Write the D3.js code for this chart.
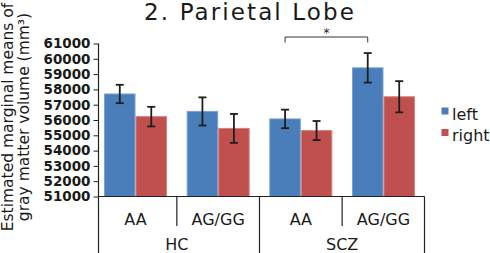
<!DOCTYPE html>
<html>
<head>
<meta charset="utf-8">
<script src="https://cdn.jsdelivr.net/npm/d3@7/dist/d3.min.js"></script>
<style>
  html, body { margin: 0; padding: 0; background: #fff; }
  svg { display: block; }
  text { font-family: "DejaVu Sans", Verdana, sans-serif; fill: #1a1a1a; }
</style>
</head>
<body>
<svg id="chart" width="490" height="253"></svg>
<script>
// ---- data ----
const groups = ["HC AA", "HC AG/GG", "SCZ AA", "SCZ AG/GG"];
const subLabels = ["AA", "AG/GG", "AA", "AG/GG"];
const diagnoses = ["HC", "SCZ"];
const sides = ["left", "right"];
const leftMeans = [57700, 56560, 56070, 59410];
const rightMeans = [56220, 55450, 55310, 57520];
const leftErr = [600, 920, 605, 965];
const rightErr = [640, 945, 625, 1020];
const yTicks = [51000, 52000, 53000, 54000, 55000, 56000, 57000, 58000, 59000, 60000, 61000];
const sigPair = [2, 3]; // SCZ AA left vs SCZ AG/GG left
const sigLabel = "*";
const title = "2. Parietal Lobe";
const yTitle = ["Estimated marginal means of", "gray matter volume (mm\u00B3)"];

const colors = { left: "#4a7ebb", right: "#c0504d" };
const strokes = { left: "#79a0d3", right: "#d8807d" };

const svg = d3.select("#chart");
const axisX = 98.5, plotRight = 424.5, baseY = 196.5, topY = 43.5;

const x0 = d3.scaleBand().domain(groups).range([94.2, 424.8]).paddingInner(0.238).paddingOuter(0.119);
const x1 = d3.scaleBand().domain(sides).range([0, x0.bandwidth()]);
const y = d3.scaleLinear().domain([51000, 61000]).range([baseY, topY]);

const data = [];
groups.forEach((g, i) => {
  data.push({ g, side: "left", v: leftMeans[i], e: leftErr[i] });
  data.push({ g, side: "right", v: rightMeans[i], e: rightErr[i] });
});

// bars
svg.append("g").selectAll("rect").data(data).join("rect")
  .attr("x", d => x0(d.g) + x1(d.side) + 0.5)
  .attr("width", x1.bandwidth() - 1)
  .attr("y", d => y(d.v))
  .attr("height", d => baseY - y(d.v))
  .attr("fill", d => colors[d.side])
  .attr("stroke", d => strokes[d.side])
  .attr("stroke-width", 1);

// error bars
const eg = svg.append("g").attr("stroke", "#1e1e1e").attr("stroke-width", 1.8).attr("fill", "none");
data.forEach(d => {
  const cx = x0(d.g) + x1(d.side) + x1.bandwidth() / 2;
  const t = y(d.v + d.e), b = y(d.v - d.e);
  eg.append("line").attr("x1", cx).attr("x2", cx).attr("y1", t).attr("y2", b);
  eg.append("line").attr("x1", cx - 4).attr("x2", cx + 4).attr("y1", t).attr("y2", t);
  eg.append("line").attr("x1", cx - 4).attr("x2", cx + 4).attr("y1", b).attr("y2", b);
});

// y axis
const yAxis = d3.axisLeft(y).tickValues(yTicks).tickSize(5).tickPadding(3).tickSizeOuter(0).tickFormat(d3.format("d"));
const ya = svg.append("g").attr("transform", `translate(${axisX},0)`).call(yAxis);
ya.select(".domain").remove();
ya.selectAll(".tick line").attr("stroke", "#222").attr("stroke-width", 1);
ya.selectAll(".tick text")
  .style("font-family", '"DejaVu Sans", sans-serif')
  .style("font-size", "13.5px")
  .style("font-weight", "bold")
  .attr("fill", "#1a1a1a");

// axis frame lines
const frame = svg.append("g").attr("stroke", "#222").attr("stroke-width", 1.2);
frame.append("line").attr("x1", axisX).attr("x2", axisX).attr("y1", topY).attr("y2", 253);
frame.append("line").attr("x1", axisX).attr("x2", plotRight).attr("y1", baseY).attr("y2", baseY);
frame.append("line").attr("x1", plotRight).attr("x2", plotRight).attr("y1", baseY).attr("y2", 253);
const step = x0.step();
for (let i = 1; i < groups.length; i++) {
  const bx = x0(groups[i]) - step * x0.paddingInner() / 2;
  const long = (i % 2 === 0);
  frame.append("line").attr("x1", bx).attr("x2", bx).attr("y1", baseY).attr("y2", long ? 253 : 226);
}

// category labels
svg.append("g").selectAll("text").data(groups).join("text")
  .attr("x", d => x0(d) + x0.bandwidth() / 2)
  .attr("y", 225)
  .attr("text-anchor", "middle")
  .style("font-size", "16px")
  .text((d, i) => subLabels[i]);

svg.append("g").selectAll("text").data(diagnoses).join("text")
  .attr("x", (d, i) => {
    const a = x0(groups[i * 2]), b = x0(groups[i * 2 + 1]) + x0.bandwidth();
    return (a + b) / 2;
  })
  .attr("y", 250)
  .attr("text-anchor", "middle")
  .style("font-size", "16px")
  .text(d => d);

// significance bracket
const sx1 = x0(groups[sigPair[0]]) + x1("left") + x1.bandwidth() / 2;
const sx2 = x0(groups[sigPair[1]]) + x1("left") + x1.bandwidth() / 2;
const by = y(61000) - 6.5;
svg.append("path")
  .attr("d", `M${sx1},${by + 5.5}V${by}H${sx2}V${by + 5.5}`)
  .attr("fill", "none").attr("stroke", "#333").attr("stroke-width", 1);
svg.append("text").attr("x", (sx1 + sx2) / 2).attr("y", by - 0.5)
  .attr("text-anchor", "middle").style("font-size", "12px").text(sigLabel);

// title
svg.append("text").attr("x", 250).attr("y", 19.5).attr("text-anchor", "middle")
  .style("font-size", "23px").style("letter-spacing", "2.1px").attr("fill", "#222").text(title);

// y title
const yt = svg.append("text").attr("transform", "translate(0,117) rotate(-90)").attr("text-anchor", "middle")
  .style("font-size", "15.5px");
yt.append("tspan").attr("x", 0).attr("y", 12.5).text(yTitle[0]);
yt.append("tspan").attr("x", 0).attr("y", 29).text(yTitle[1]);

// legend
const lg = svg.append("g");
sides.forEach((s, i) => {
  lg.append("rect").attr("x", 441.5).attr("y", 107.5 + i * 21.5).attr("width", 7).attr("height", 7).attr("fill", colors[s]);
  lg.append("text").attr("x", 452).attr("y", 119.5 + i * 21).style("font-size", "16px").text(s);
});
</script>
</body>
</html>
